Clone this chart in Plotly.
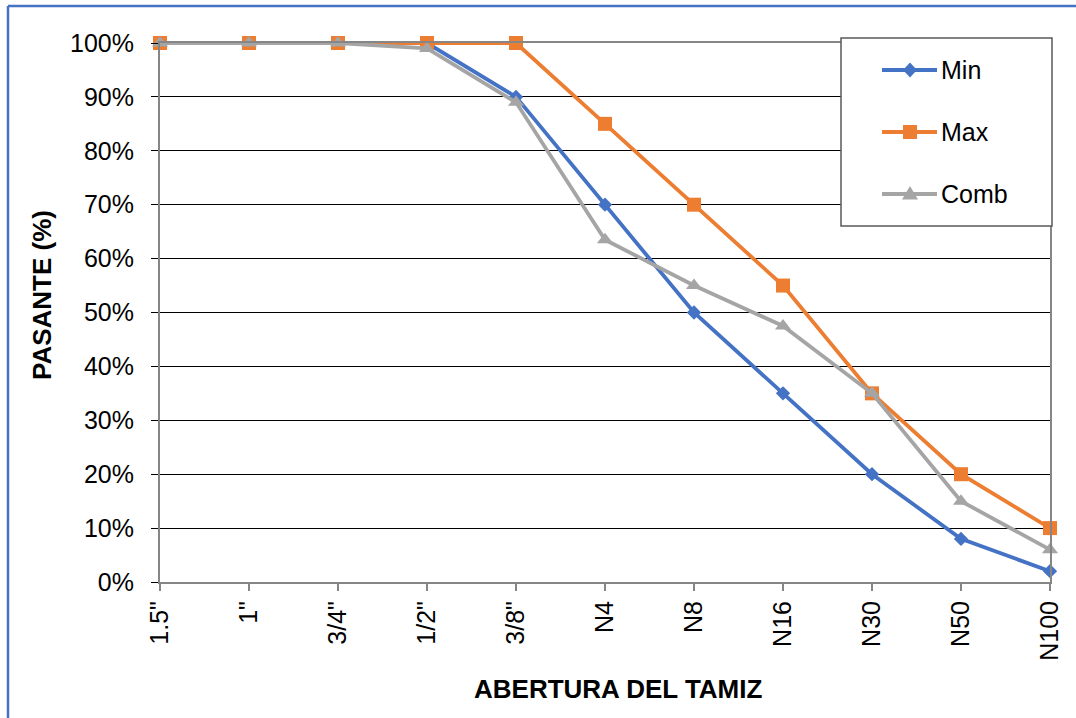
import plotly.graph_objects as go

# Sieve openings and passing percentages
tamices = ['1.5"', '1"', '3/4"', '1/2"', '3/8"', 'N4', 'N8', 'N16', 'N30', 'N50', 'N100']
pasante_min = [100, 100, 100, 100, 90, 70, 50, 35, 20, 8, 2]
pasante_max = [100, 100, 100, 100, 100, 85, 70, 55, 35, 20, 10]
pasante_comb = [100, 100, 100, 99, 89, 63.5, 55, 47.5, 35, 15, 6]

y_ticks = [0, 10, 20, 30, 40, 50, 60, 70, 80, 90, 100]
y_labels = [f"{v}%" for v in y_ticks]

FONT = "Liberation Sans, Arial, sans-serif"
AXIS_GRAY = "#868686"
W, H = 1076, 718
ML, MR, MT, MB = 160, 26, 43, 136
PW, PH = W - ML - MR, H - MT - MB


def fx(px):
    """Pixel x -> paper fraction."""
    return (px - ML) / PW


def fy(py):
    """Pixel y (from top) -> paper fraction."""
    return (H - MB - py) / PH


series = [
    ("Min", pasante_min, "#4472C4", "diamond", 11),
    ("Max", pasante_max, "#ED7D31", "square", 14),
    ("Comb", pasante_comb, "#A5A5A5", "triangle-up", 14),
]

fig = go.Figure()
for name, vals, color, symbol, size in series:
    fig.add_trace(go.Scatter(
        x=list(range(len(tamices))), y=vals, name=name, mode="lines+markers",
        line=dict(color=color, width=3.8),
        marker=dict(symbol=symbol, size=size, color=color, line=dict(width=0)),
        cliponaxis=False, showlegend=False,
    ))

fig.update_layout(
    width=W, height=H,
    margin=dict(l=ML, r=MR, t=MT, b=MB),
    paper_bgcolor="white", plot_bgcolor="white",
    font=dict(family=FONT, size=25, color="black"),
    showlegend=False,
)

fig.update_xaxes(
    range=[0, 10], tickmode="array",
    tickvals=list(range(len(tamices))), ticktext=tamices,
    tickangle=-90, ticks="outside", ticklen=7, tickcolor=AXIS_GRAY, tickwidth=1.5,
    showline=True, linecolor=AXIS_GRAY, linewidth=2, mirror=True,
    showgrid=False, zeroline=False,
    tickfont=dict(size=25, family=FONT),
)
fig.update_yaxes(
    range=[0, 100], tickmode="array", tickvals=y_ticks, ticktext=y_labels,
    ticks="outside", ticklen=7, tickcolor="black", tickwidth=1,
    ticklabelstandoff=12,
    showline=True, linecolor=AXIS_GRAY, linewidth=2, mirror=True,
    showgrid=True, gridcolor="black", gridwidth=1, zeroline=False,
    tickfont=dict(size=25, family=FONT),
)

# Axis titles
fig.add_annotation(text="<b>ABERTURA DEL TAMIZ</b>", xref="paper", yref="paper",
                   x=fx(618), y=fy(689), showarrow=False,
                   font=dict(size=26, family=FONT), xanchor="center", yanchor="middle")
fig.add_annotation(text="<b>PASANTE (%)</b>", xref="paper", yref="paper",
                   x=fx(42), y=fy(295), showarrow=False, textangle=-90,
                   font=dict(size=26, family=FONT), xanchor="center", yanchor="middle")

# Legend box with sample line, marker and label per series
lx0, lx1, ly0, ly1 = 841, 1052, 38, 226
fig.add_shape(type="rect", xref="paper", yref="paper", layer="above",
              x0=fx(lx0), x1=fx(lx1), y0=fy(ly1), y1=fy(ly0),
              fillcolor="white", line=dict(color="#595959", width=1.5))

entry_y = [70, 132, 194]
for (name, _, color, symbol, _), ey in zip(series, entry_y):
    fig.add_shape(type="line", xref="paper", yref="paper", layer="above",
                  x0=fx(882), x1=fx(937), y0=fy(ey), y1=fy(ey),
                  line=dict(color=color, width=3.8))
    cx = 910
    if symbol == "diamond":
        pts = [(cx, ey - 7.5), (cx + 7, ey), (cx, ey + 7.5), (cx - 7, ey)]
    elif symbol == "square":
        pts = [(cx - 7, ey - 7), (cx + 7, ey - 7), (cx + 7, ey + 7), (cx - 7, ey + 7)]
    else:
        pts = [(cx, ey - 8), (cx + 8, ey + 5.5), (cx - 8, ey + 5.5)]
    path = "M " + " L ".join(f"{fx(a):.5f},{fy(b):.5f}" for a, b in pts) + " Z"
    fig.add_shape(type="path", xref="paper", yref="paper", layer="above",
                  path=path, fillcolor=color, line=dict(width=0))
    fig.add_annotation(text=name, xref="paper", yref="paper",
                       x=fx(939), y=fy(ey), showarrow=False,
                       xanchor="left", yanchor="middle",
                       font=dict(size=25, family=FONT))

# Blue page frame along the left and top edges
fig.add_shape(type="line", xref="paper", yref="paper",
              x0=fx(8), x1=fx(8), y0=fy(6), y1=fy(H + 5),
              line=dict(color="#4472C4", width=2.5))
fig.add_shape(type="line", xref="paper", yref="paper",
              x0=fx(8), x1=fx(W + 5), y0=fy(6), y1=fy(6),
              line=dict(color="#4472C4", width=2.5))

fig.write_html("out.html")
